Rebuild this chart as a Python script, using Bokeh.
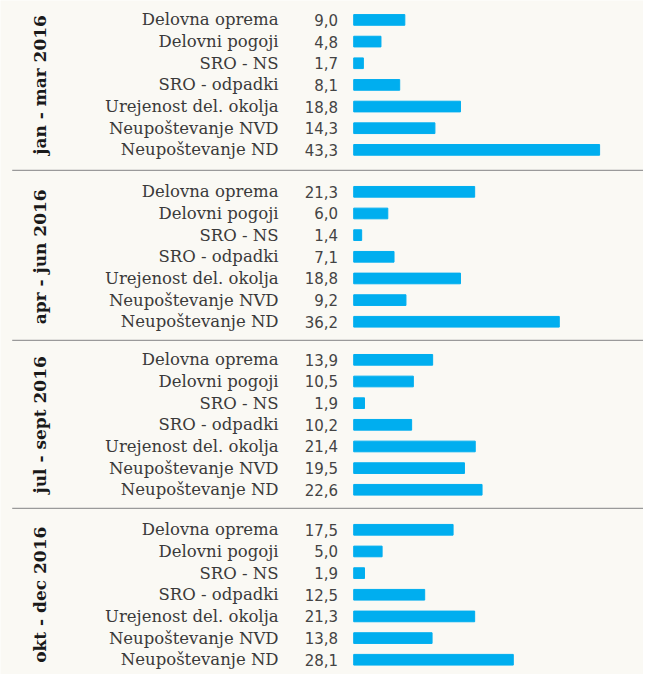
from bokeh.plotting import figure
from bokeh.models import Range1d, ColumnDataSource
from bokeh.core.properties import value
from bokeh.embed import file_html
from bokeh.resources import INLINE
import math

categories = ["Delovna oprema", "Delovni pogoji", "SRO - NS", "SRO - odpadki",
              "Urejenost del. okolja", "Neupoštevanje NVD", "Neupoštevanje ND"]
periods = ["jan - mar 2016", "apr - jun 2016", "jul - sept 2016", "okt - dec 2016"]
q1 = [9.0, 4.8, 1.7, 8.1, 18.8, 14.3, 43.3]
q2 = [21.3, 6.0, 1.4, 7.1, 18.8, 9.2, 36.2]
q3 = [13.9, 10.5, 1.9, 10.2, 21.4, 19.5, 22.6]
q4 = [17.5, 5.0, 1.9, 12.5, 21.3, 13.8, 28.1]
series = [q1, q2, q3, q4]

# layout (in reference pixel rows)
panel_top = [22, 199, 372, 547]
row_step = 22.3
PX = 5.82           # pixels per unit
X0 = 362            # pixel where value 0 sits

def ux(px):
    return (px - X0) / PX

ys, vals, cats, labs = [], [], [], []
for p, s in enumerate(series):
    for r, v in enumerate(s):
        ys.append(panel_top[p] + r * row_step)
        vals.append(v)
        cats.append(categories[r])
        labs.append(f"{v:.1f}".replace(".", ","))

src = ColumnDataSource(dict(y=ys, v=vals, cat=cats, lab=labs,
                            xc=[ux(285)] * len(ys), xv=[ux(346)] * len(ys)))

p = figure(width=643, height=674, output_backend="svg", toolbar_location=None,
           x_range=Range1d(ux(0), ux(659)), y_range=Range1d(696, 2),
           min_border=0)
p.axis.visible = False
p.grid.visible = False
p.outline_line_color = None
p.background_fill_color = "#FAF9F4"
p.border_fill_color = "#FAF9F4"

p.hbar(y="y", left=0, right="v", height=11, source=src, color="#00AEEF")
p.text(x="xc", y="y", text="cat", source=src, text_align="right", text_baseline="middle",
       text_font=value("DejaVu Serif"), text_font_size="16.5px", text_color="#3A3A3A")
p.text(x="xv", y="y", text="lab", source=src, text_align="right", text_baseline="middle",
       text_font=value("DejaVu Sans"), text_font_size="15px", text_color="#444444")

# period labels
pc = [t + 3 * row_step for t in panel_top]
p.text(x=[ux(40)] * 4, y=pc, text=periods, angle=math.pi / 2, text_align="center",
       text_baseline="middle", text_font=value("DejaVu Serif"), text_font_style="bold",
       text_font_size="17px", text_color="#1A1A1A")

# separators
for sy in [177, 352, 525]:
    p.segment(x0=[ux(12)], y0=[sy], x1=[ux(659)], y1=[sy], line_color="#9A9A9A", line_width=1.2)

open("out.html", "w").write(file_html(p, INLINE))
